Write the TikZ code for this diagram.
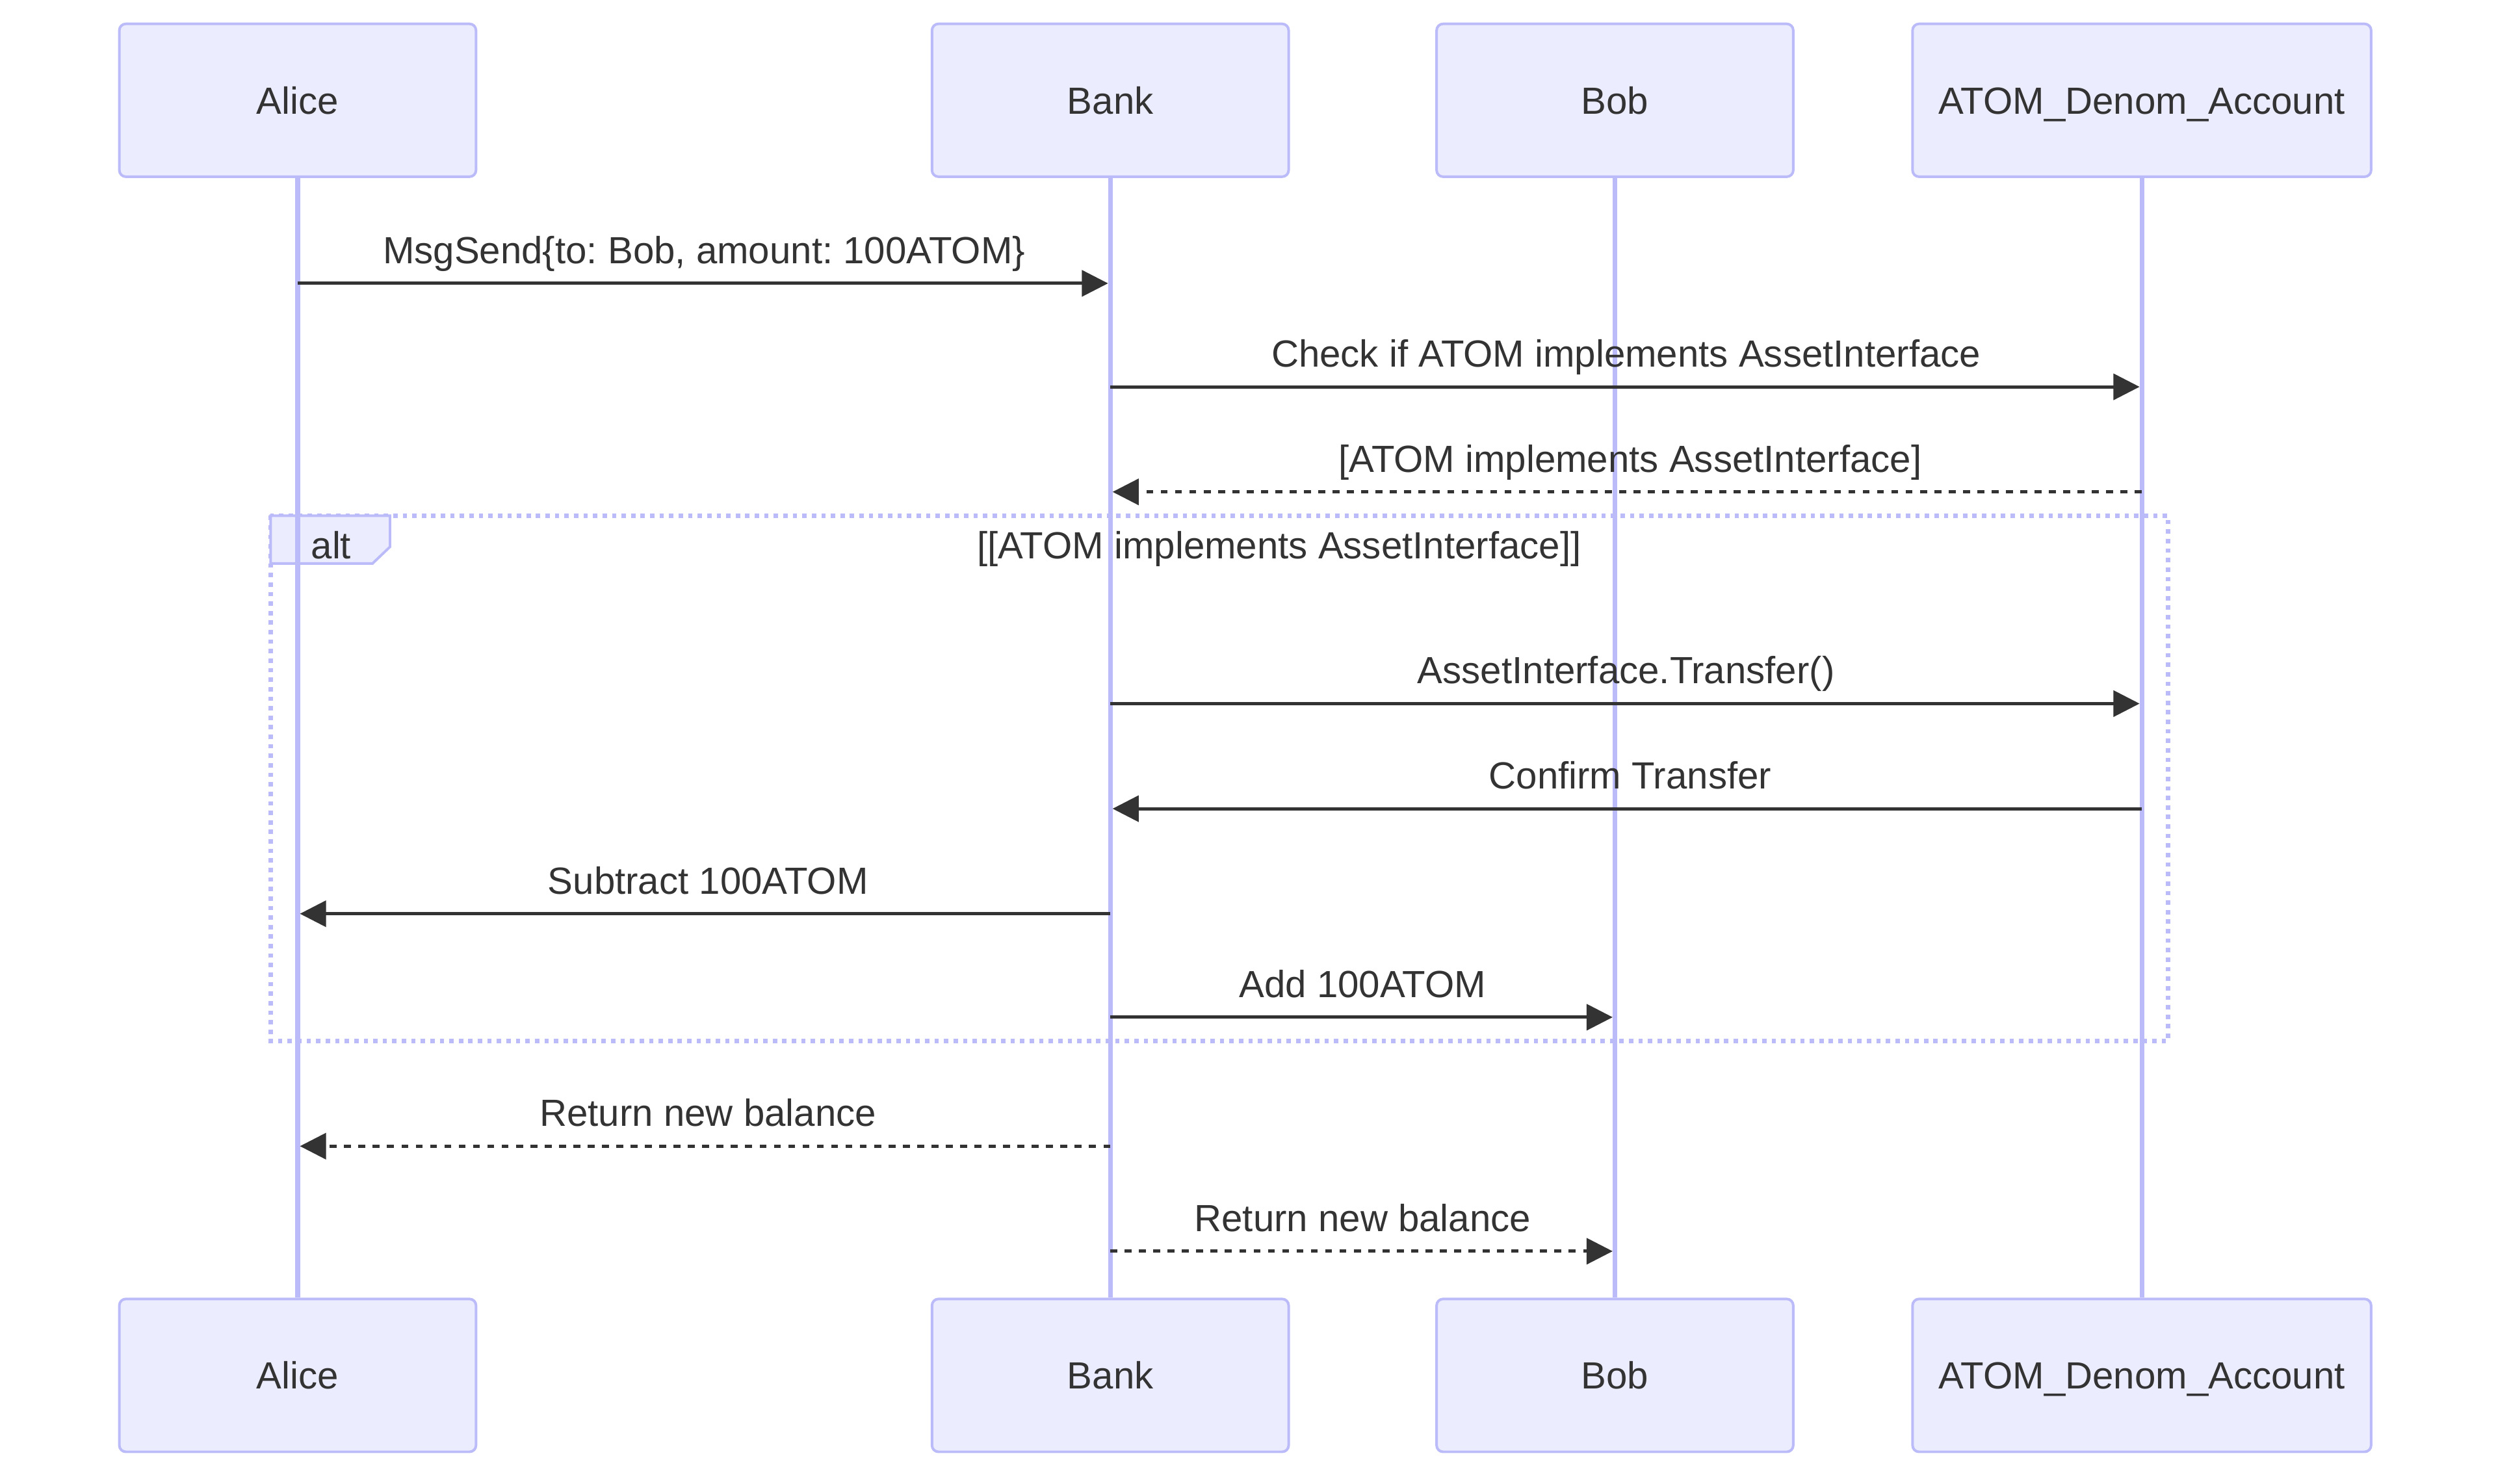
\documentclass[tikz,border=0pt]{standalone}
\usepackage{fontspec}
\setmainfont{Liberation Sans}
\usetikzlibrary{arrows.meta}
\definecolor{actfill}{HTML}{ECECFF}
\definecolor{actline}{RGB}{187,187,250}
\definecolor{ink}{HTML}{333333}
\frenchspacing
\tikzset{
  actor/.style={draw=actline, fill=actfill, line width=1.15pt, rounded corners=2.9pt,
    minimum width=5.6cm, minimum height=2.4cm, text height=12.1pt, text depth=0pt, text=ink},
  wide/.style={minimum width=7.2cm},
  lifeline/.style={draw=actline, line width=2.1pt},
  msg/.style={draw=ink, line width=1.45pt, -{Triangle[length=11.7pt,width=11.6pt]}, shorten >=1pt},
  reply/.style={msg, dash pattern=on 3.1pt off 3.3pt},
  msglabel/.style={midway, anchor=base, yshift=8.9pt, text=ink}
}

\begin{document}
\begin{tikzpicture}[x=0.025cm, y=-0.025cm, font=\fontsize{16.9}{20}\selectfont]
  \useasboundingbox (0,0) rectangle (1568,932);
  % alt frame
  \draw [actline, line width=1.95pt, dash pattern=on 1.95pt off 2.3pt] (170,324) rectangle (1362,654);
  \filldraw [draw=actline, fill=actfill, line width=1.15pt] (170,324) -- (245,324) -- (245,343.5) -- (234,354) -- (170,354) -- cycle;
  \node (altlbl) [anchor=base, text=ink] at (208,351) {alt};
  \node (altcond) [anchor=base, text=ink] at (803.5,351) {[[ATOM implements AssetInterface]]};
  % actors
  \node (alice) [actor] at (187,63) {Alice};
  \node (bank) [actor] at (697.5,63) {Bank};
  \node (bob) [actor] at (1014.5,63) {Bob};
  \node (acct) [actor, wide] at (1345.5,63) {ATOM\_Denom\_Account};
  \node (aliceb) [actor] at (187,864) {Alice};
  \node (bankb) [actor] at (697.5,864) {Bank};
  \node (bobb) [actor] at (1014.5,864) {Bob};
  \node (acctb) [actor, wide] at (1345.5,864) {ATOM\_Denom\_Account};
  \foreach \p in {alice, bank, bob, acct}
    \draw [lifeline] (\p.south) -- (\p b.north);
  % messages (leftward labels sit a little to the right)
  \foreach \y/\src/\dst/\kind/\dx/\txt in {
      178/alice/bank/msg/0/{MsgSend\{to: Bob, amount: 100ATOM\}},
      243/bank/acct/msg/0/{Check if ATOM implements AssetInterface},
      309/acct/bank/reply/1.8/{[ATOM implements AssetInterface]},
      442/bank/acct/msg/0/{AssetInterface.Transfer()},
      508/acct/bank/msg/1.8/{Confirm Transfer},
      574/bank/alice/msg/1.8/{Subtract 100ATOM},
      639/bank/bob/msg/0/{Add 100ATOM},
      720/bank/alice/reply/1.8/{Return new balance},
      786/bank/bob/reply/0/{Return new balance}}
    \draw [\kind] (\src |- 0,\y) -- (\dst |- 0,\y) node [msglabel, xshift=\dx pt] {\txt};
\end{tikzpicture}
\end{document}
